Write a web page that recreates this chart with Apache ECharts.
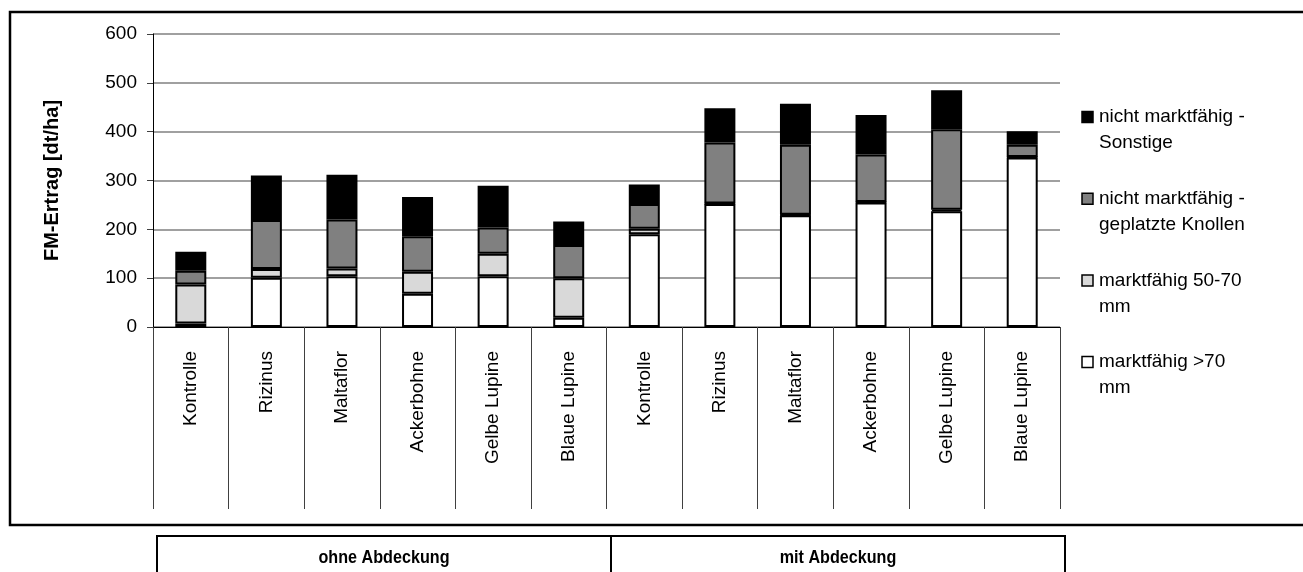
<!DOCTYPE html>
<html>
<head>
<meta charset="utf-8">
<script src="https://cdn.jsdelivr.net/npm/echarts@6/dist/echarts.min.js"></script>
<style>
  html, body { margin: 0; padding: 0; background: #fff; }
  #chart { width: 1303px; height: 572px; }
</style>
</head>
<body>
<div id="chart"></div>
<script>
// Varianten (je 6 ohne und 6 mit Abdeckung)
const categories = [
  'Kontrolle', 'Rizinus', 'Maltaflor', 'Ackerbohne', 'Gelbe Lupine', 'Blaue Lupine',
  'Kontrolle', 'Rizinus', 'Maltaflor', 'Ackerbohne', 'Gelbe Lupine', 'Blaue Lupine'
];
const groups = ['ohne Abdeckung', 'mit Abdeckung'];

// FM-Ertrag [dt/ha] je Fraktion
const marktfaehigUeber70 = [7, 101, 104, 68, 104, 19, 190, 252, 229, 255, 237, 347];
const marktfaehig50bis70 = [80, 18, 16, 45, 46, 81, 11, 1, 1, 1, 3, 1];
const geplatzteKnollen   = [28, 100, 100, 73, 54, 68, 51, 125, 143, 97, 165, 25];
const sonstige           = [39, 91, 92, 80, 85, 48, 40, 70, 84, 81, 80, 28];

const yTicks = [0, 100, 200, 300, 400, 500, 600];

const seriesDefs = [
  { name: 'marktfähig >70 mm', label: ['marktfähig >70', 'mm'], data: marktfaehigUeber70, color: '#ffffff' },
  { name: 'marktfähig 50-70 mm', label: ['marktfähig 50-70', 'mm'], data: marktfaehig50bis70, color: '#d9d9d9' },
  { name: 'nicht marktfähig - geplatzte Knollen', label: ['nicht marktfähig -', 'geplatzte Knollen'], data: geplatzteKnollen, color: '#808080' },
  { name: 'nicht marktfähig - Sonstige', label: ['nicht marktfähig -', 'Sonstige'], data: sonstige, color: '#000000' }
];

const FONT = '"Liberation Sans", Arial, sans-serif';
const chart = echarts.init(document.getElementById('chart'), null, { renderer: 'canvas' });

const plotLeft = 153, plotRight = 1060, plotTop = 34, plotBottom = 327;
const W = 1303, H = 572;

// Legende: oberster Eintrag = oberstes Stapelsegment, Symbol auf Höhe der ersten Zeile
const legendGraphics = [];
const legendOrder = seriesDefs.slice().reverse();
const legendLineHeight = 26;
legendOrder.forEach((s, i) => {
  const y0 = 117 + i * 81.7;
  legendGraphics.push({
    type: 'rect',
    shape: { x: 1082, y: y0 - 5.5, width: 11, height: 11 },
    style: { fill: s.color, stroke: '#000', lineWidth: 1.5 },
    silent: true
  });
  legendGraphics.push({
    type: 'text',
    x: 1099, y: y0 - legendLineHeight / 2,
    style: {
      text: s.label.join('\n'),
      font: '19px ' + FONT,
      fill: '#000',
      verticalAlign: 'top',
      lineHeight: legendLineHeight
    },
    silent: true
  });
});

const option = {
  animation: false,
  backgroundColor: '#fff',
  grid: {
    left: plotLeft, right: W - plotRight, top: plotTop, bottom: H - plotBottom,
    containLabel: false
  },
  xAxis: {
    type: 'category',
    data: categories,
    boundaryGap: true,
    axisLine: { show: true, lineStyle: { color: '#000', width: 1 } },
    axisTick: { show: true, interval: 0, length: 182, lineStyle: { color: '#404040', width: 1 } },
    axisLabel: {
      interval: 0, rotate: 90, margin: 24,
      fontFamily: FONT, fontSize: 19, color: '#000'
    },
    splitLine: { show: false }
  },
  yAxis: {
    type: 'value',
    min: yTicks[0], max: yTicks[yTicks.length - 1], interval: 100,
    name: 'FM-Ertrag [dt/ha]',
    nameLocation: 'middle',
    nameGap: 91,
    nameRotate: 90,
    nameTextStyle: { fontFamily: FONT, fontSize: 20, fontWeight: 'bold', color: '#000' },
    axisLine: { show: true, lineStyle: { color: '#000', width: 1 } },
    axisTick: { show: true, length: 6, lineStyle: { color: '#404040' } },
    axisLabel: { margin: 16, fontFamily: FONT, fontSize: 19, color: '#000' },
    splitLine: { show: true, lineStyle: { color: '#808080', width: 1.5 } }
  },
  series: seriesDefs.map(s => ({
    name: s.name,
    type: 'bar',
    stack: 'ertrag',
    barWidth: 31,
    data: s.data,
    itemStyle: { color: s.color, borderColor: '#000', borderWidth: 2 },
    emphasis: { disabled: true }
  })),
  graphic: [
    // Rahmen um das Diagramm
    {
      type: 'rect',
      shape: { x: 10, y: 12, width: 1310, height: 513 },
      style: { fill: 'none', stroke: '#000', lineWidth: 2.5 },
      silent: true, z: 100
    },
    // Gruppenkasten unter der Achse
    {
      type: 'rect',
      shape: { x: 157, y: 536, width: 908, height: 60 },
      style: { fill: 'none', stroke: '#000', lineWidth: 2 },
      silent: true, z: 100
    },
    {
      type: 'line',
      shape: { x1: 611, y1: 536, x2: 611, y2: 600 },
      style: { stroke: '#000', lineWidth: 2 },
      silent: true, z: 100
    },
    {
      type: 'text', x: 384, y: 558, scaleX: 0.85,
      style: { text: groups[0], font: 'bold 19px ' + FONT, fill: '#000', align: 'center', verticalAlign: 'middle' },
      silent: true
    },
    {
      type: 'text', x: 838, y: 558, scaleX: 0.85,
      style: { text: groups[1], font: 'bold 19px ' + FONT, fill: '#000', align: 'center', verticalAlign: 'middle' },
      silent: true
    }
  ].concat(legendGraphics)
};

chart.setOption(option);
</script>
</body>
</html>
